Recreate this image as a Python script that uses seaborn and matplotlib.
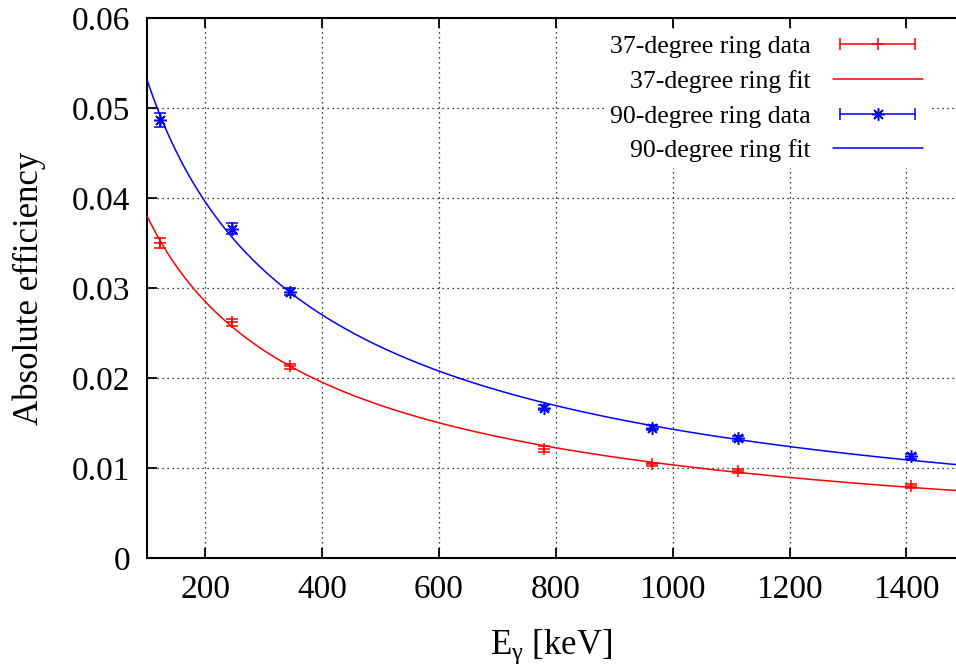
import numpy as np
import pandas as pd
import matplotlib
matplotlib.use('Agg')
import matplotlib.pyplot as plt
import seaborn as sns
from matplotlib.lines import Line2D
from matplotlib.legend_handler import HandlerLine2D

energy = [121.8, 244.7, 344.3, 778.9, 964.1, 1112.1, 1408.0]
eff37 = [0.0350, 0.0262, 0.0213, 0.0121, 0.0104, 0.0097, 0.0080]
err37 = [0.0006, 0.0004, 0.0003, 0.0003, 0.0002, 0.0002, 0.0002]
eff90 = [0.0487, 0.0366, 0.0296, 0.0167, 0.0145, 0.0133, 0.0113]
err90 = [0.0008, 0.0006, 0.0004, 0.0003, 0.0003, 0.0003, 0.0003]

x_min, x_max = 100, 1485

sns.set_theme(style='white')
plt.rcParams['font.family'] = ['Liberation Serif', 'DejaVu Serif']
plt.rcParams['mathtext.fontset'] = 'custom'
plt.rcParams['mathtext.rm'] = 'Liberation Serif'
plt.rcParams['mathtext.it'] = 'Liberation Serif:italic'


def log_fit(x, y, err, grid):
    # weighted quadratic fit in log-log space (HPGe efficiency curve)
    x, y, err = np.asarray(x), np.asarray(y), np.asarray(err)
    c = np.polyfit(np.log(x), np.log(y), 2, w=y / err)
    return np.exp(np.polyval(c, np.log(grid)))


grid = np.linspace(x_min, x_max, 400)
fits = pd.DataFrame({
    'E': np.concatenate([grid, grid]),
    'eff': np.concatenate([log_fit(energy, eff37, err37, grid),
                           log_fit(energy, eff90, err90, grid)]),
    'ring': ['37'] * len(grid) + ['90'] * len(grid),
})

fig = plt.figure(figsize=(9.56, 6.66), dpi=100)
ax = fig.add_axes([147 / 956, 108 / 666, 1 - 147 / 956, 540 / 666])

red, blue = '#ff0000', '#0000ff'

sns.lineplot(data=fits, x='E', y='eff', hue='ring', palette={'37': red, '90': blue},
             linewidth=1.1, legend=False, ax=ax, zorder=3)

ax.errorbar(energy, eff37, yerr=err37, fmt='+', color=red, ms=8, mew=1.1,
            elinewidth=1.1, capsize=4.5, capthick=1.1, zorder=4)
ax.errorbar(energy, eff90, yerr=err90, fmt='none', color=blue,
            elinewidth=1.1, capsize=4.5, capthick=1.1, zorder=4)
ax.plot(energy, eff90, ls='none', marker=(8, 2, 0), color=blue, ms=9, mew=1.1, zorder=5)

ax.set_xlim(x_min, x_max)
ax.set_ylim(0, 0.06)
ax.set_xticks([200, 400, 600, 800, 1000, 1200, 1400])
ax.set_yticks([0, 0.01, 0.02, 0.03, 0.04, 0.05, 0.06])
ax.set_yticklabels(['0', '0.01', '0.02', '0.03', '0.04', '0.05', '0.06'])

ax.grid(True, color='black', linestyle=(0, (1, 3)), linewidth=0.9)
ax.set_axisbelow(True)
for side in ['left', 'bottom', 'top']:
    ax.spines[side].set_color('black')
    ax.spines[side].set_linewidth(1.5)
ax.spines['right'].set_visible(False)

ax.tick_params(axis='both', direction='in', length=7, width=1.3, color='black',
               labelsize=24, pad=12, labelcolor='black')
ax.tick_params(axis='x', top=True, bottom=True)
ax.tick_params(axis='y', left=True, right=False)

ax.set_xlabel(r'E$_\mathrm{γ}$ [keV]', fontsize=25, color='black')
ax.set_ylabel('Absolute efficiency', fontsize=25, color='black')
ax.xaxis.set_label_coords(0.5, -0.128)
ax.yaxis.set_label_coords(-0.125, 0.5)

# legend: label on the left, sample on the right (gnuplot style)
ends37 = Line2D([], [], color=red, lw=1.1, marker='|', ms=9, mew=1.1)
mid37 = Line2D([], [], color=red, ls='none', marker='+', ms=8, mew=1.1)
fit37 = Line2D([], [], color=red, lw=1.1)
ends90 = Line2D([], [], color=blue, lw=1.1, marker='|', ms=9, mew=1.1)
mid90 = Line2D([], [], color=blue, ls='none', marker=(8, 2, 0), ms=9, mew=1.1)
fit90 = Line2D([], [], color=blue, lw=1.1)

leg = ax.legend(
    [(ends37, mid37), fit37, (ends90, mid90), fit90],
    ['37-degree ring data', '37-degree ring fit', '90-degree ring data', '90-degree ring fit'],
    handler_map={ends37: HandlerLine2D(numpoints=2), ends90: HandlerLine2D(numpoints=2),
                 mid37: HandlerLine2D(numpoints=1), mid90: HandlerLine2D(numpoints=1)},
    loc='upper right', bbox_to_anchor=(929 / 956, 637 / 666), bbox_transform=fig.transFigure,
    markerfirst=False, frameon=True, framealpha=1, edgecolor='none', facecolor='white',
    fancybox=False, fontsize=18.5, handlelength=3.5, handletextpad=0.85,
    labelspacing=0.45, borderpad=0.25, borderaxespad=0,
)
for t in leg.get_texts():
    t.set_color('black')

fig.savefig('out.png', dpi=100)
